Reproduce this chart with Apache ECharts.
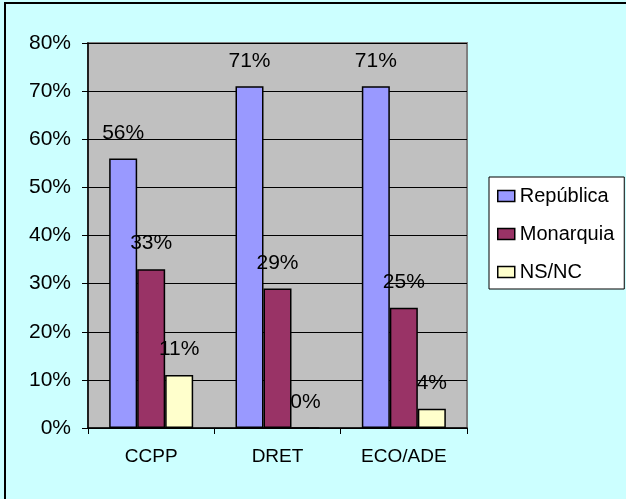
<!DOCTYPE html>
<html>
<head>
<meta charset="utf-8">
<script src="https://cdn.jsdelivr.net/npm/echarts@6/dist/echarts.min.js"></script>
<style>
  html, body { margin: 0; padding: 0; background: #CCFFFF; }
  #chart { width: 626px; height: 499px; }
</style>
</head>
<body>
<div id="chart"></div>
<script>
// data
const categories = ['CCPP', 'DRET', 'ECO/ADE']
const republica = [56, 71, 71]
const monarquia = [33, 29, 25]
const nsnc = [11, 0, 4]
const seriesNames = ['República', 'Monarquia', 'NS/NC']

const font = 'Liberation Sans, Arial, sans-serif'

function barSeries (name, values, color) {
  return {
    name: name,
    type: 'bar',
    data: values,
    barWidth: 28,
    barGap: '0%',
    itemStyle: { color: color, borderColor: '#000', borderWidth: 1.5 },
    label: {
      show: true,
      position: 'top',
      distance: 15,
      formatter: '{c}%',
      color: '#000',
      fontFamily: font,
      fontSize: 21
    }
  }
}

let myChart = echarts.init(document.getElementById('chart'))
let option = {
  backgroundColor: '#CCFFFF',
  animation: false,
  graphic: [
    {
      type: 'rect',
      shape: { x: 5, y: 3, width: 700, height: 600 },
      style: { fill: 'none', stroke: '#000', lineWidth: 2 },
      z: 100
    }
  ],
  legend: {
    orient: 'vertical',
    left: 489,
    top: 177,
    data: seriesNames,
    backgroundColor: '#fff',
    borderColor: '#000',
    borderWidth: 1,
    padding: [9, 10, 7, 8],
    itemGap: 18,
    itemWidth: 17,
    itemHeight: 11,
    icon: 'rect',
    itemStyle: { borderColor: '#000', borderWidth: 1.5 },
    textStyle: { fontFamily: font, fontSize: 20, color: '#000', lineHeight: 20 }
  },
  grid: {
    left: 88,
    right: 159,
    top: 43,
    bottom: 71,
    show: true,
    backgroundColor: '#C0C0C0',
    borderColor: '#808080',
    borderWidth: 2
  },
  xAxis: {
    type: 'category',
    data: categories,
    axisLine: { lineStyle: { color: '#000', width: 1.5 } },
    axisTick: { show: true, length: 6, lineStyle: { color: '#000' } },
    axisLabel: { color: '#000', fontFamily: font, fontSize: 19, margin: 19 }
  },
  yAxis: {
    type: 'value',
    min: 0,
    max: 80,
    interval: 10,
    axisLine: { show: true, lineStyle: { color: '#000', width: 1.5 } },
    axisTick: { show: true, length: 6, lineStyle: { color: '#000' } },
    axisLabel: { color: '#000', fontFamily: font, fontSize: 21, margin: 17, formatter: '{value}%' },
    splitLine: { show: true, lineStyle: { color: '#000', width: 1 } }
  },
  series: [
    barSeries('República', republica, '#9999FF'),
    barSeries('Monarquia', monarquia, '#993366'),
    barSeries('NS/NC', nsnc, '#FFFFCC')
  ]
}
myChart.setOption(option)
</script>
</body>
</html>
